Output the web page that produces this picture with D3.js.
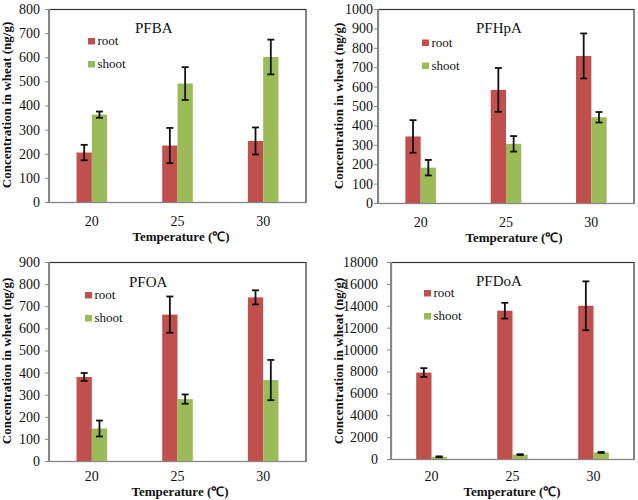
<!DOCTYPE html>
<html>
<head>
<meta charset="utf-8">
<script src="https://cdnjs.cloudflare.com/ajax/libs/d3/7.8.5/d3.min.js"></script>
<style>
  html, body { margin: 0; padding: 0; background: #fff; }
  svg { display: block; }
  text { font-family: "Liberation Serif", "Times New Roman", serif; fill: #111; }
</style>
</head>
<body>
<svg id="chart" width="638" height="500"></svg>
<script>
// ---------------- DATA ----------------
const temperatures = ["20", "25", "30"];
const seriesNames = ["root", "shoot"];

const pfbaRoot = [205, 234, 253];
const pfbaRootErr = [32, 73, 56];
const pfbaShoot = [362, 491, 601];
const pfbaShootErr = [13, 68, 72];

const pfhpaRoot = [343, 583, 758];
const pfhpaRootErr = [84, 113, 116];
const pfhpaShoot = [182, 305, 442];
const pfhpaShootErr = [40, 40, 27];

const pfoaRoot = [380, 662, 740];
const pfoaRootErr = [18, 82, 32];
const pfoaShoot = [147, 280, 366];
const pfoaShootErr = [36, 21, 91];

const pfdoaRoot = [7900, 13550, 14000];
const pfdoaRootErr = [400, 720, 2230];
const pfdoaShoot = [200, 400, 600];
const pfdoaShootErr = [40, 40, 40];

const pfbaTicks = [0, 100, 200, 300, 400, 500, 600, 700, 800];
const pfhpaTicks = [0, 100, 200, 300, 400, 500, 600, 700, 800, 900, 1000];
const pfoaTicks = [0, 100, 200, 300, 400, 500, 600, 700, 800, 900];
const pfdoaTicks = [0, 2000, 4000, 6000, 8000, 10000, 12000, 14000, 16000, 18000];

const titles = ["PFBA", "PFHpA", "PFOA", "PFDoA"];
const yTitle = "Concentration in wheat (ng/g)";
const xTitle = "Temperature (\u2103)";

// ---------------- STYLE / LAYOUT ----------------
const colors = { root: "#C0504D", shoot: "#9BBB59" };
const serif = "'Liberation Serif', 'Times New Roman', serif";
const layouts = [
  { left: 49, right: 306, top: 9, bottom: 202, tickLabelX: 40, yTitleX: 10.5, yTitleY: 105,
    xTickY: 225.5, xTitleX: 181, xTitleY: 240.5, legX: 88, legY: 38, titleX: 135, titleY: 33 },
  { left: 378, right: 634, top: 9, bottom: 203, tickLabelX: 373, yTitleX: 342.5, yTitleY: 106,
    xTickY: 227, xTitleX: 514, xTitleY: 242, legX: 422, legY: 39.5, titleX: 476, titleY: 33 },
  { left: 49, right: 306, top: 262, bottom: 461, tickLabelX: 40, yTitleX: 10.5, yTitleY: 361,
    xTickY: 481, xTitleX: 180, xTitleY: 496, legX: 85, legY: 292, titleX: 129, titleY: 287 },
  { left: 391, right: 634, top: 262, bottom: 459, tickLabelX: 378, yTitleX: 342.5, yTitleY: 361,
    xTickY: 480.5, xTitleX: 512, xTitleY: 495.5, legX: 424, legY: 290, titleX: 476, titleY: 286 }
];

const panelsData = [
  { root: pfbaRoot, rootErr: pfbaRootErr, shoot: pfbaShoot, shootErr: pfbaShootErr, ticks: pfbaTicks },
  { root: pfhpaRoot, rootErr: pfhpaRootErr, shoot: pfhpaShoot, shootErr: pfhpaShootErr, ticks: pfhpaTicks },
  { root: pfoaRoot, rootErr: pfoaRootErr, shoot: pfoaShoot, shootErr: pfoaShootErr, ticks: pfoaTicks },
  { root: pfdoaRoot, rootErr: pfdoaRootErr, shoot: pfdoaShoot, shootErr: pfdoaShootErr, ticks: pfdoaTicks }
];

const svg = d3.select("#chart");
const barW = 15.3;

panelsData.forEach((pd, i) => {
  const L = layouts[i];
  const g = svg.append("g");

  const x0 = d3.scaleBand().domain(temperatures).range([L.left, L.right]).padding(0);
  const x1 = d3.scaleBand().domain(seriesNames).range([0, 2 * barW]).padding(0);
  const y = d3.scaleLinear().domain([0, d3.max(pd.ticks)]).range([L.bottom, L.top]);

  // plot border (top/right dark)
  g.append("rect")
    .attr("x", L.left).attr("y", L.top + 0.5)
    .attr("width", L.right - L.left).attr("height", L.bottom - L.top)
    .attr("fill", "none").attr("stroke", "#333").attr("stroke-width", 1.2);

  const rows = [];
  temperatures.forEach((t, j) => {
    rows.push({ t, s: "root", v: pd.root[j], e: pd.rootErr[j] });
    rows.push({ t, s: "shoot", v: pd.shoot[j], e: pd.shootErr[j] });
  });
  const bx = d => x0(d.t) + x0.bandwidth() / 2 - barW + x1(d.s);

  g.selectAll("rect.bar").data(rows).join("rect")
    .attr("class", "bar")
    .attr("x", bx)
    .attr("y", d => y(d.v))
    .attr("width", x1.bandwidth())
    .attr("height", d => y(0) - y(d.v))
    .attr("fill", d => colors[d.s]);

  // error bars
  const eg = g.selectAll("g.err").data(rows).join("g").attr("class", "err")
    .attr("stroke", "#111").attr("stroke-width", 1.8);
  eg.append("line")
    .attr("x1", d => bx(d) + barW / 2).attr("x2", d => bx(d) + barW / 2)
    .attr("y1", d => y(d.v + d.e)).attr("y2", d => y(d.v - d.e));
  eg.append("line")
    .attr("x1", d => bx(d) + barW / 2 - 3.5).attr("x2", d => bx(d) + barW / 2 + 3.5)
    .attr("y1", d => y(d.v + d.e)).attr("y2", d => y(d.v + d.e));
  eg.append("line")
    .attr("x1", d => bx(d) + barW / 2 - 3.5).attr("x2", d => bx(d) + barW / 2 + 3.5)
    .attr("y1", d => y(d.v - d.e)).attr("y2", d => y(d.v - d.e));

  // y axis
  const yAxis = d3.axisLeft(y).tickValues(pd.ticks).tickFormat(d3.format("d"))
    .tickSize(4).tickPadding(L.left - 4 - L.tickLabelX);
  const ya = g.append("g").attr("transform", `translate(${L.left},0)`).call(yAxis);
  ya.attr("font-family", null);
  ya.select(".domain").attr("stroke", "#888").attr("stroke-width", 1.2);
  ya.selectAll(".tick line").attr("stroke", "#888");
  ya.selectAll(".tick text").attr("font-size", 14).style("font-family", serif).attr("fill", "#111");

  // x axis
  const xAxis = d3.axisBottom(x0).tickSize(0).tickPadding(0);
  const xa = g.append("g").attr("transform", `translate(0,${L.bottom})`).call(xAxis);
  xa.attr("font-family", null);
  xa.select(".domain").attr("stroke", "#888").attr("stroke-width", 1.2);
  xa.selectAll(".tick text").attr("font-size", 14).style("font-family", serif)
    .attr("fill", "#111").attr("dy", null).attr("y", L.xTickY - L.bottom);

  // axis titles
  g.append("text")
    .attr("transform", `translate(${L.yTitleX},${L.yTitleY}) rotate(-90)`)
    .attr("text-anchor", "middle").attr("font-size", 13).attr("font-weight", "bold")
    .text(yTitle);
  g.append("text")
    .attr("x", L.xTitleX).attr("y", L.xTitleY)
    .attr("text-anchor", "middle").attr("font-size", 13).attr("font-weight", "bold")
    .text(xTitle);

  // panel title
  g.append("text").attr("x", L.titleX).attr("y", L.titleY).attr("font-size", 15).text(titles[i]);

  // legend
  seriesNames.forEach((s, k) => {
    const ly = L.legY + k * 23;
    g.append("rect").attr("x", L.legX).attr("y", ly).attr("width", 7).attr("height", 6.5).attr("fill", colors[s]);
    g.append("text").attr("x", L.legX + 9.5).attr("y", ly + 7).attr("font-size", 13).text(s);
  });
});
</script>
</body>
</html>
